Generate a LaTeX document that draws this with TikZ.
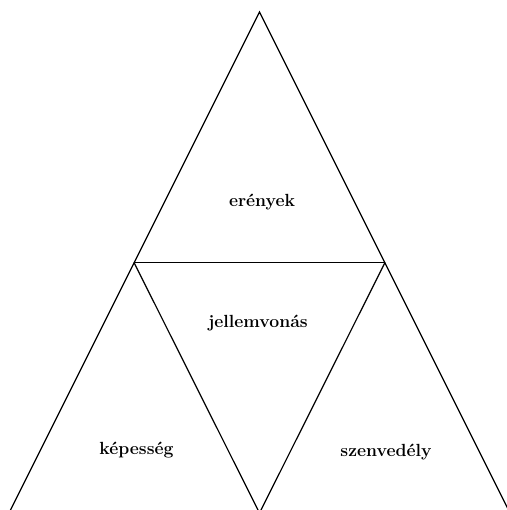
\documentclass[tikz,border=0pt]{standalone}
\usepackage{tikz}

\begin{document}
\begin{tikzpicture}[x=1pt, y=1pt, font=\fontsize{17.6}{20}\selectfont\bfseries,
    label/.style={anchor=base, inner sep=0pt}]
    \useasboundingbox (0, 0) rectangle (506, 510);
    \coordinate (top) at (259.5, 498);
    \coordinate (midl) at (134, 247.5);
    \coordinate (midr) at (385, 247.5);
    \coordinate (botl) at (9, -3);
    \coordinate (botm) at (259.5, -3);
    \coordinate (botr) at (510, -3);

    \node (virtue) [label] at (262, 303.5) {erények};
    \node (trait) [label] at (258, 182) {jellemvonás};
    \node (ability) [label] at (136.5, 55) {képesség};
    \node (passion) [label] at (386, 53.5) {szenvedély};

    \draw[line width=1.2pt] (botl) -- (top) -- (botr);
    \draw[line width=1.2pt] (midl) -- (midr);
    \draw[line width=1.2pt] (midl) -- (botm) -- (midr);
\end{tikzpicture}
\end{document}
